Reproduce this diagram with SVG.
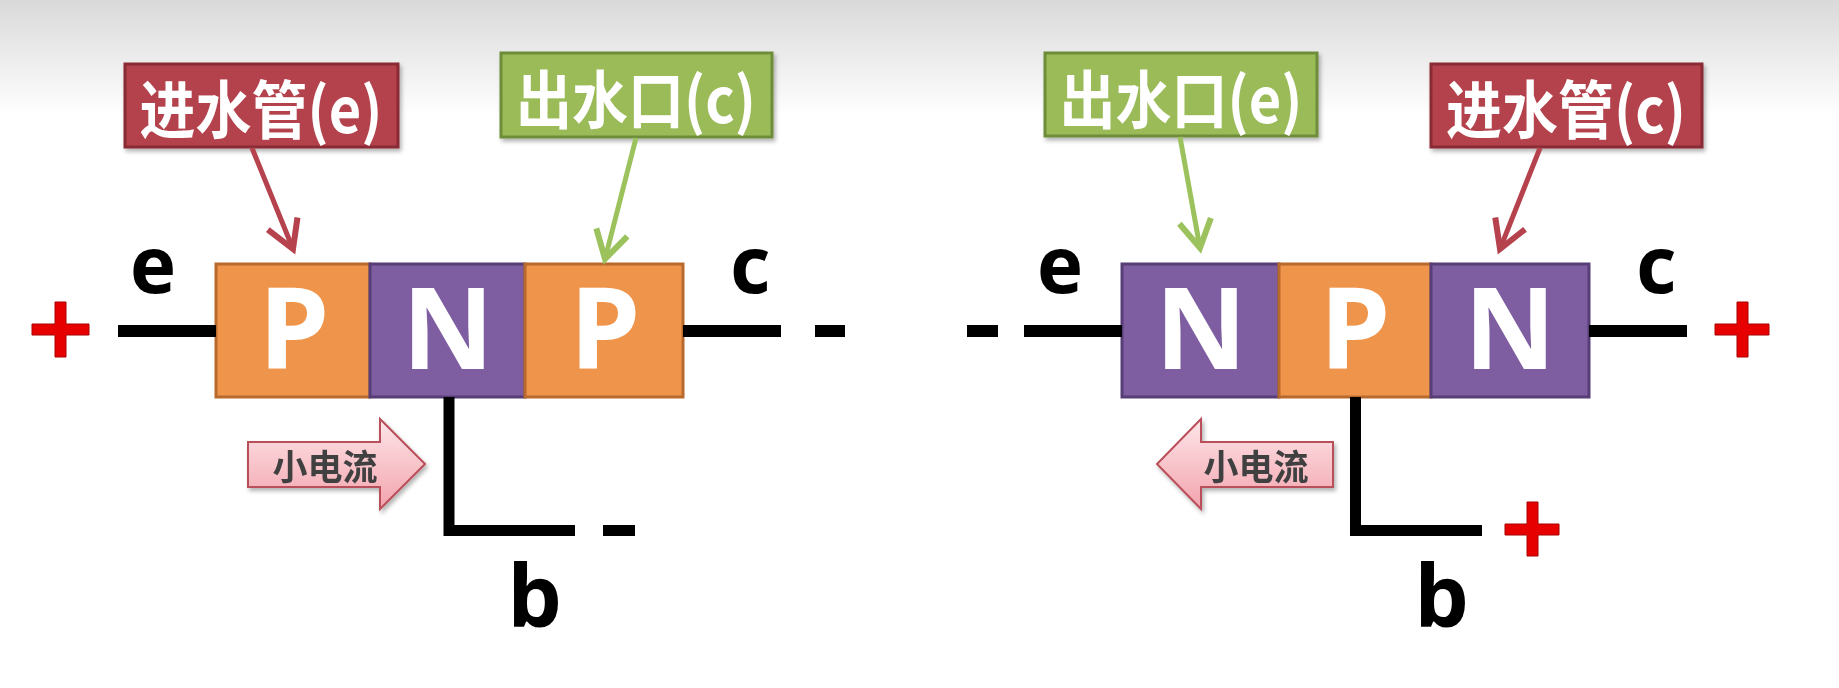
<svg xmlns="http://www.w3.org/2000/svg" width="1839" height="688" viewBox="0 0 1839 688">
<defs>
<linearGradient id="bg" x1="0" y1="0" x2="0" y2="1">
<stop offset="0" stop-color="#d9d9d9"/>
<stop offset="1" stop-color="#ffffff"/>
</linearGradient>
<linearGradient id="pink" x1="0" y1="0" x2="0" y2="1">
<stop offset="0" stop-color="#fde6e9"/>
<stop offset="1" stop-color="#f3a3ad"/>
</linearGradient>
<filter id="sh" x="-10%" y="-10%" width="130%" height="140%">
<feDropShadow dx="2" dy="3" stdDeviation="2" flood-color="#000" flood-opacity="0.3"/>
</filter>
<marker id="ahR" markerWidth="8" markerHeight="8" refX="6" refY="4" orient="auto" markerUnits="strokeWidth">
<path d="M0.5,0.8 L6,4 L0.5,7.2" fill="none" stroke="#b5424d" stroke-width="1.2" stroke-linejoin="miter"/>
</marker>
<marker id="ahG" markerWidth="8" markerHeight="8" refX="6" refY="4" orient="auto" markerUnits="strokeWidth">
<path d="M0.5,0.8 L6,4 L0.5,7.2" fill="none" stroke="#9bc25c" stroke-width="1.2" stroke-linejoin="miter"/>
</marker>
<style>
.lbl{font-family:"Noto Sans CJK SC","Noto Sans",sans-serif;font-weight:bold;font-size:56px;fill:#fff;text-anchor:middle;dominant-baseline:central}
.redbox{fill:#b4424d;stroke:#8a2a34;stroke-width:3}
.grnbox{fill:#9bbb59;stroke:#6e8d3b;stroke-width:3}
.pcell{fill:#ef944b;stroke:#b86a2d;stroke-width:3}
.ncell{fill:#7e5ea0;stroke:#573e76;stroke-width:3}
.big{font-family:"Noto Sans","Liberation Sans",sans-serif;font-weight:bold;font-size:113px;fill:#fff;text-anchor:middle}
.term{font-family:"Noto Sans","Liberation Sans",sans-serif;font-weight:bold;font-size:78px;fill:#000;text-anchor:middle}
.termb{font-family:"Noto Sans","Liberation Sans",sans-serif;font-weight:bold;font-size:86px;fill:#000;text-anchor:middle}
.wire{fill:#000}
.cross{fill:#e60000;stroke:#a80000;stroke-width:1}
.cur{fill:url(#pink);stroke:#b94f5a;stroke-width:2}
.curt{font-family:"Noto Sans CJK SC",sans-serif;font-weight:bold;font-size:35px;fill:#404040;text-anchor:middle;dominant-baseline:central}
</style>
</defs>
<rect x="0" y="0" width="1839" height="688" fill="#fff"/>
<rect x="0" y="0" width="1839" height="115" fill="url(#bg)"/>

<!-- Left: PNP -->
<g id="pnp-block">
<rect class="pcell" x="216" y="264" width="154" height="133"/>
<rect class="ncell" x="370" y="264" width="155" height="133"/>
<rect class="pcell" x="525" y="264" width="158" height="133"/>
<text class="big" x="294" y="369">P</text>
<text class="big" x="448" y="369">N</text>
<text class="big" x="605" y="369">P</text>
</g>
<g id="pnp-label-in" filter="url(#sh)">
<rect class="redbox" x="125" y="64" width="273" height="83"/>
<text class="lbl" transform="translate(261,106) scale(1,1.12)">进水管(e)</text>
</g>
<g id="pnp-label-out" filter="url(#sh)">
<rect class="grnbox" x="501" y="53" width="271" height="84"/>
<text class="lbl" transform="translate(636,96) scale(1,1.12)">出水口(c)</text>
</g>
<g id="pnp-terminals">
<text class="term" x="153" y="293">e</text>
<text class="term" x="750" y="293">c</text>
<text class="termb" x="535" y="627">b</text>
<path class="cross" d="M55,302 H66 V324 H89 V335 H66 V357 H55 V335 H32 V324 H55 Z"/>
<rect class="wire" x="603" y="525" width="32" height="11"/>
<rect class="wire" x="815" y="325" width="30" height="12"/>
</g>
<g id="pnp-current" filter="url(#sh)">
<path class="cur" d="M248,442 H380 V419 L425,464 L380,509 V487 H248 Z"/>
<text class="curt" x="325" y="464">小电流</text>
</g>

<!-- Right: NPN -->
<g id="npn-block">
<rect class="ncell" x="1122" y="264" width="157" height="133"/>
<rect class="pcell" x="1279" y="264" width="152" height="133"/>
<rect class="ncell" x="1431" y="264" width="158" height="133"/>
<text class="big" x="1201" y="369">N</text>
<text class="big" x="1355" y="369">P</text>
<text class="big" x="1510" y="369">N</text>
</g>
<g id="npn-label-out" filter="url(#sh)">
<rect class="grnbox" x="1045" y="53" width="272" height="83"/>
<text class="lbl" transform="translate(1181,96) scale(1,1.12)">出水口(e)</text>
</g>
<g id="npn-label-in" filter="url(#sh)">
<rect class="redbox" x="1431" y="64" width="271" height="83"/>
<text class="lbl" transform="translate(1566,106) scale(1,1.12)">进水管(c)</text>
</g>
<g id="npn-terminals">
<text class="term" x="1060" y="293">e</text>
<text class="term" x="1656" y="293">c</text>
<text class="termb" x="1442" y="627">b</text>
<rect class="wire" x="967" y="325" width="31" height="12"/>
<path class="cross" d="M1737,302 H1748 V324 H1769 V335 H1748 V357 H1737 V335 H1715 V324 H1737 Z"/>
<path class="cross" d="M1527,502 H1538 V524 H1559 V535 H1538 V556 H1527 V535 H1505 V524 H1527 Z"/>
</g>
<g id="npn-current" filter="url(#sh)">
<path class="cur" d="M1333,442 H1201 V419 L1157,464 L1201,509 V487 H1333 Z"/>
<text class="curt" x="1256" y="464">小电流</text>
</g>

<g id="connectors">
<rect class="wire" x="118" y="325" width="98" height="12"/>
<rect class="wire" x="683" y="325" width="98" height="12"/>
<path d="M449,397 V530.5 H575" fill="none" stroke="#000" stroke-width="11"/>
<rect class="wire" x="1024" y="325" width="98" height="12"/>
<rect class="wire" x="1589" y="325" width="98" height="12"/>
<path d="M1355.5,397 V530.5 H1482" fill="none" stroke="#000" stroke-width="11"/>
<line x1="252" y1="148" x2="293" y2="249" stroke="#b5424d" stroke-width="5" marker-end="url(#ahR)"/>
<line x1="636" y1="138" x2="605" y2="259" stroke="#9bc25c" stroke-width="5" marker-end="url(#ahG)"/>
<line x1="1180" y1="137" x2="1200" y2="248" stroke="#9bc25c" stroke-width="5" marker-end="url(#ahG)"/>
<line x1="1540" y1="148" x2="1500" y2="249" stroke="#b5424d" stroke-width="5" marker-end="url(#ahR)"/>
</g>
</svg>
